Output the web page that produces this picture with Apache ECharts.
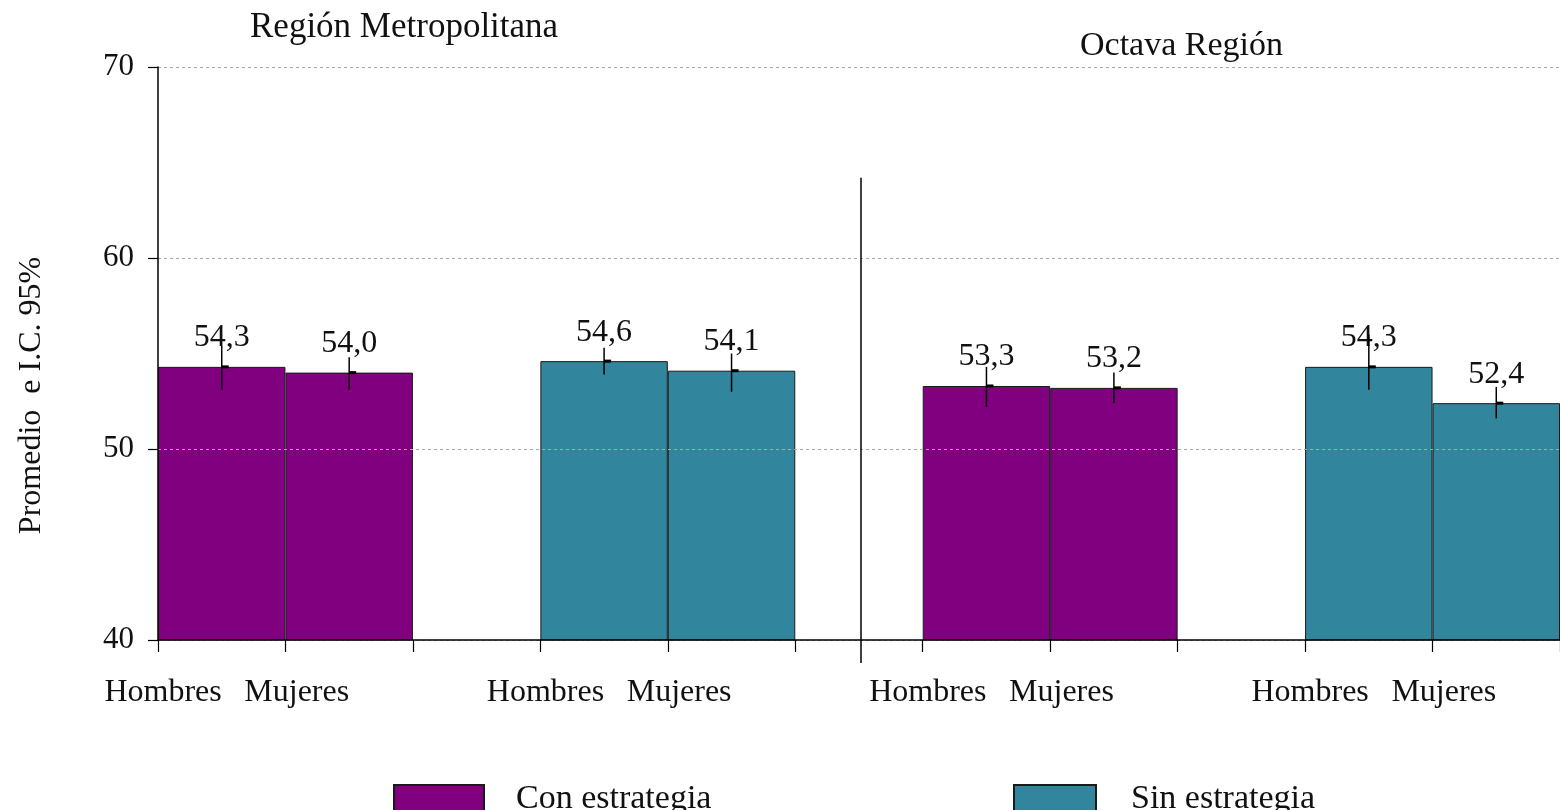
<!DOCTYPE html>
<html>
<head>
<meta charset="utf-8">
<script src="https://cdn.jsdelivr.net/npm/echarts@6/dist/echarts.min.js"></script>
<style>
html,body{margin:0;padding:0;background:#fff;}
#chart{width:1560px;height:810px;}
</style>
</head>
<body>
<div id="chart"></div>
<script>
// ---- data ----
const categories = ['Hombres','Mujeres','','Hombres','Mujeres','','Hombres','Mujeres','','Hombres','Mujeres'];
const conEstrategia = [54.3, 54.0, null, null, null, null, 53.3, 53.2, null, null, null];
const sinEstrategia = [null, null, null, 54.6, 54.1, null, null, null, null, 54.3, 52.4];
const ciLow  = [53.1, 53.1, null, 53.9, 53.0, null, 52.2, 52.4, null, 53.1, 51.6];
const ciHigh = [55.4, 54.8, null, 55.3, 55.0, null, 54.3, 54.0, null, 56.0, 53.25];
const yMin = 40, yMax = 70, yInterval = 10;
const regionTitles = ['Región Metropolitana', 'Octava Región'];
const seriesNames = ['Con estrategia', 'Sin estrategia'];
const separator = [[5, 64.2, 38.8]];

const FONT = 'Liberation Serif';
const TXT = '#111';
const C_CON = '#800080';
const C_SIN = '#31859C';

const means = categories.map((c, i) => conEstrategia[i] != null ? conEstrategia[i] : sinEstrategia[i]);
const errData = [];
categories.forEach((c, i) => {
  if (ciLow[i] != null) errData.push([i, ciLow[i], ciHigh[i], means[i]]);
});

const fmt = v => (v == null ? '' : v.toFixed(1).replace('.', ','));

const barLabel = {
  show: true, position: 'top', distance: 13,
  fontFamily: FONT, fontSize: 32, color: TXT,
  formatter: p => fmt(p.value)
};

const chart = echarts.init(document.getElementById('chart'));
chart.setOption({
  animation: false,
  backgroundColor: '#fff',
  title: [
    { text: regionTitles[0], left: 250, top: 10, padding: 0,
      textStyle: { fontFamily: FONT, fontSize: 35, fontWeight: 'normal', color: TXT } },
    { text: regionTitles[1], left: 1080, top: 29, padding: 0,
      textStyle: { fontFamily: FONT, fontSize: 34, fontWeight: 'normal', color: TXT } }
  ],
  legend: [
    { data: [seriesNames[0]], left: 393, top: 782, padding: 0, itemWidth: 90, itemHeight: 28, icon: 'rect',
      textStyle: { fontFamily: FONT, fontSize: 34, color: TXT, padding: [0, 0, 0, 27] } },
    { data: [seriesNames[1]], left: 1013, top: 782, padding: 0, itemWidth: 82, itemHeight: 28, icon: 'rect',
      textStyle: { fontFamily: FONT, fontSize: 34, color: TXT, padding: [0, 0, 0, 30] } }
  ],
  grid: { left: 158, right: 0, top: 67, bottom: 170, containLabel: false },
  xAxis: {
    type: 'category', data: categories, boundaryGap: true, z: 4,
    axisLine: { show: true, lineStyle: { color: '#000', width: 1.5 } },
    axisTick: { show: true, interval: 0, length: 12, lineStyle: { color: '#000', width: 1.2 } },
    axisLabel: { interval: 0, align: 'right', margin: 37, fontFamily: FONT, fontSize: 32, color: TXT },
    splitLine: { show: false }
  },
  yAxis: {
    type: 'value', min: yMin, max: yMax, interval: yInterval, z: 3,
    name: 'Promedio  e I.C. 95%', nameLocation: 'middle', nameGap: 110,
    nameTextStyle: { fontFamily: FONT, fontSize: 32, color: TXT, padding: [0, 84, 0, 0] },
    axisLine: { show: true, lineStyle: { color: '#000', width: 1.5 } },
    axisTick: { show: true, length: 10, lineStyle: { color: '#000', width: 1.2 } },
    axisLabel: { margin: 24, fontFamily: FONT, fontSize: 31, color: TXT },
    splitLine: { show: true, lineStyle: { color: '#a8a8a8', type: [3, 3], width: 1 } }
  },
  series: [
    { name: seriesNames[0], type: 'bar', data: conEstrategia,
      barGap: '-100%', barCategoryGap: '0%',
      itemStyle: { color: C_CON, borderColor: '#1a1a1a', borderWidth: 1 },
      label: barLabel, z: 2 },
    { name: seriesNames[1], type: 'bar', data: sinEstrategia,
      barGap: '-100%', barCategoryGap: '0%',
      itemStyle: { color: C_SIN, borderColor: '#1a1a1a', borderWidth: 1 },
      label: barLabel, z: 2 },
    { name: 'IC', type: 'custom', data: errData, z: 5, clip: false,
      encode: { x: 0, y: [1, 2, 3] },
      renderItem: (params, api) => {
        const x = api.value(0);
        const lo = api.coord([x, api.value(1)]);
        const hi = api.coord([x, api.value(2)]);
        const m = api.coord([x, api.value(3)]);
        return { type: 'group', children: [
          { type: 'line', shape: { x1: lo[0], y1: lo[1], x2: hi[0], y2: hi[1] },
            style: { stroke: '#000', lineWidth: 1.5 } },
          { type: 'rect', shape: { x: m[0], y: m[1] - 1.5, width: 7, height: 3 },
            style: { fill: '#000' } }
        ] };
      }
    },
    { name: 'sep', type: 'custom', data: separator, z: 5, clip: false,
      encode: { x: 0, y: [1, 2] },
      renderItem: (params, api) => {
        const x = api.value(0);
        const a = api.coord([x, api.value(1)]);
        const b = api.coord([x, api.value(2)]);
        return { type: 'line', shape: { x1: a[0] + 2, y1: a[1], x2: b[0] + 2, y2: b[1] },
          style: { stroke: '#000', lineWidth: 1.5 } };
      }
    }
  ]
});
</script>
</body>
</html>
